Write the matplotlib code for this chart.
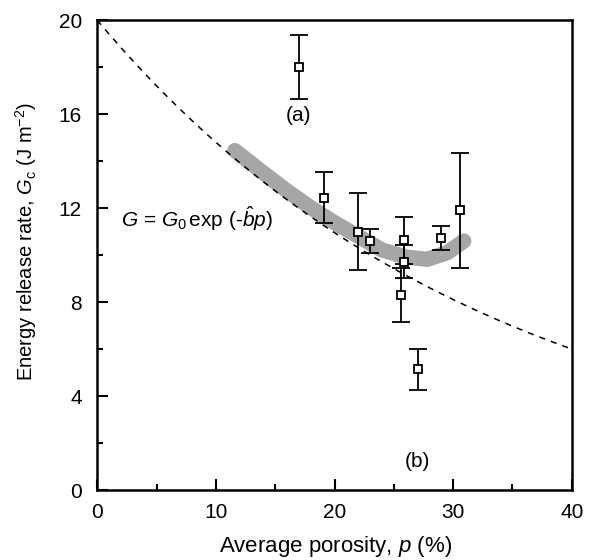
import numpy as np
import matplotlib
matplotlib.use("Agg")
import matplotlib.pyplot as plt

plt.rcParams['font.family'] = ['Liberation Sans', 'DejaVu Sans']
plt.rcParams['mathtext.fontset'] = 'custom'
plt.rcParams['mathtext.rm'] = 'Liberation Sans'
plt.rcParams['mathtext.it'] = 'Liberation Sans:italic'
plt.rcParams['mathtext.bf'] = 'Liberation Sans:bold'

# Data points
porosity = [17.0, 19.1, 22.0, 23.0, 25.85, 25.85, 25.6, 29.0, 30.6, 27.0]
energy = [18.0, 12.45, 11.0, 10.6, 10.63, 9.72, 8.30, 10.74, 11.9, 5.14]
err = [1.35, 1.1, 1.65, 0.53, 1.0, 0.7, 1.15, 0.51, 2.45, 0.87]

# Exponential fit parameters
G0 = 20.0
b_hat = 0.0301

# Gray band (trend)
band_x = [11.6, 14, 16, 18, 20, 22, 24, 26, 27.8, 29.5, 30.9]
band_y = [14.45, 13.5, 12.73, 12.02, 11.38, 10.8, 10.22, 9.92, 9.82, 10.1, 10.6]

fig = plt.figure(figsize=(6, 5.6), dpi=100)
ax = fig.add_axes([0.162, 0.125, 0.791, 0.839])

ax.plot(band_x, band_y, color='#a6a6a6', lw=11, solid_capstyle='round',
        solid_joinstyle='round', zorder=1)

xx = np.linspace(0, 40, 200)
ax.plot(xx, G0 * np.exp(-b_hat * xx), ls=(0, (4, 4)), color='black', lw=1.1, zorder=2)

ax.errorbar(porosity, energy, yerr=err, fmt='s', mfc='white', mec='black', ms=6,
            mew=1.3, ecolor='black', elinewidth=1.3, capsize=6.5, capthick=1.3, zorder=3)

ax.text(17.0, 15.95, '(a)', ha='center', va='center', fontsize=15)
ax.text(26.95, 1.2, '(b)', ha='center', va='center', fontsize=15)
ax.text(2.0, 11.55, r'$G$ = $G_0\,$exp (-$\hat{b}$$p$)', ha='left', va='center', fontsize=15)

ax.set_xlim(0, 40)
ax.set_ylim(0, 20)
ax.set_xticks([0, 10, 20, 30, 40])
ax.set_yticks([0, 4, 8, 12, 16, 20])
ax.set_xticks([5, 15, 25, 35], minor=True)
ax.set_yticks([2, 6, 10, 14, 18], minor=True)
ax.tick_params(which='both', direction='in', width=1.5, labelsize=15)
ax.tick_params(axis='x', pad=9)
ax.tick_params(axis='y', pad=11)
ax.tick_params(which='major', length=8)
ax.tick_params(which='minor', length=4)
for s in ax.spines.values():
    s.set_linewidth(1.8)

ax.set_xlabel(r'Average porosity, $p$ (%)', fontsize=16, va='center')
ax.xaxis.set_label_coords(0.503, -0.12)
ax.set_ylabel(r'Energy release rate, $G_{\rm c}$ (J m$^{-2}$)', fontsize=14.5, va='center')
ax.yaxis.set_label_coords(-0.149, 0.529)

fig.savefig('out.png', dpi=100)
